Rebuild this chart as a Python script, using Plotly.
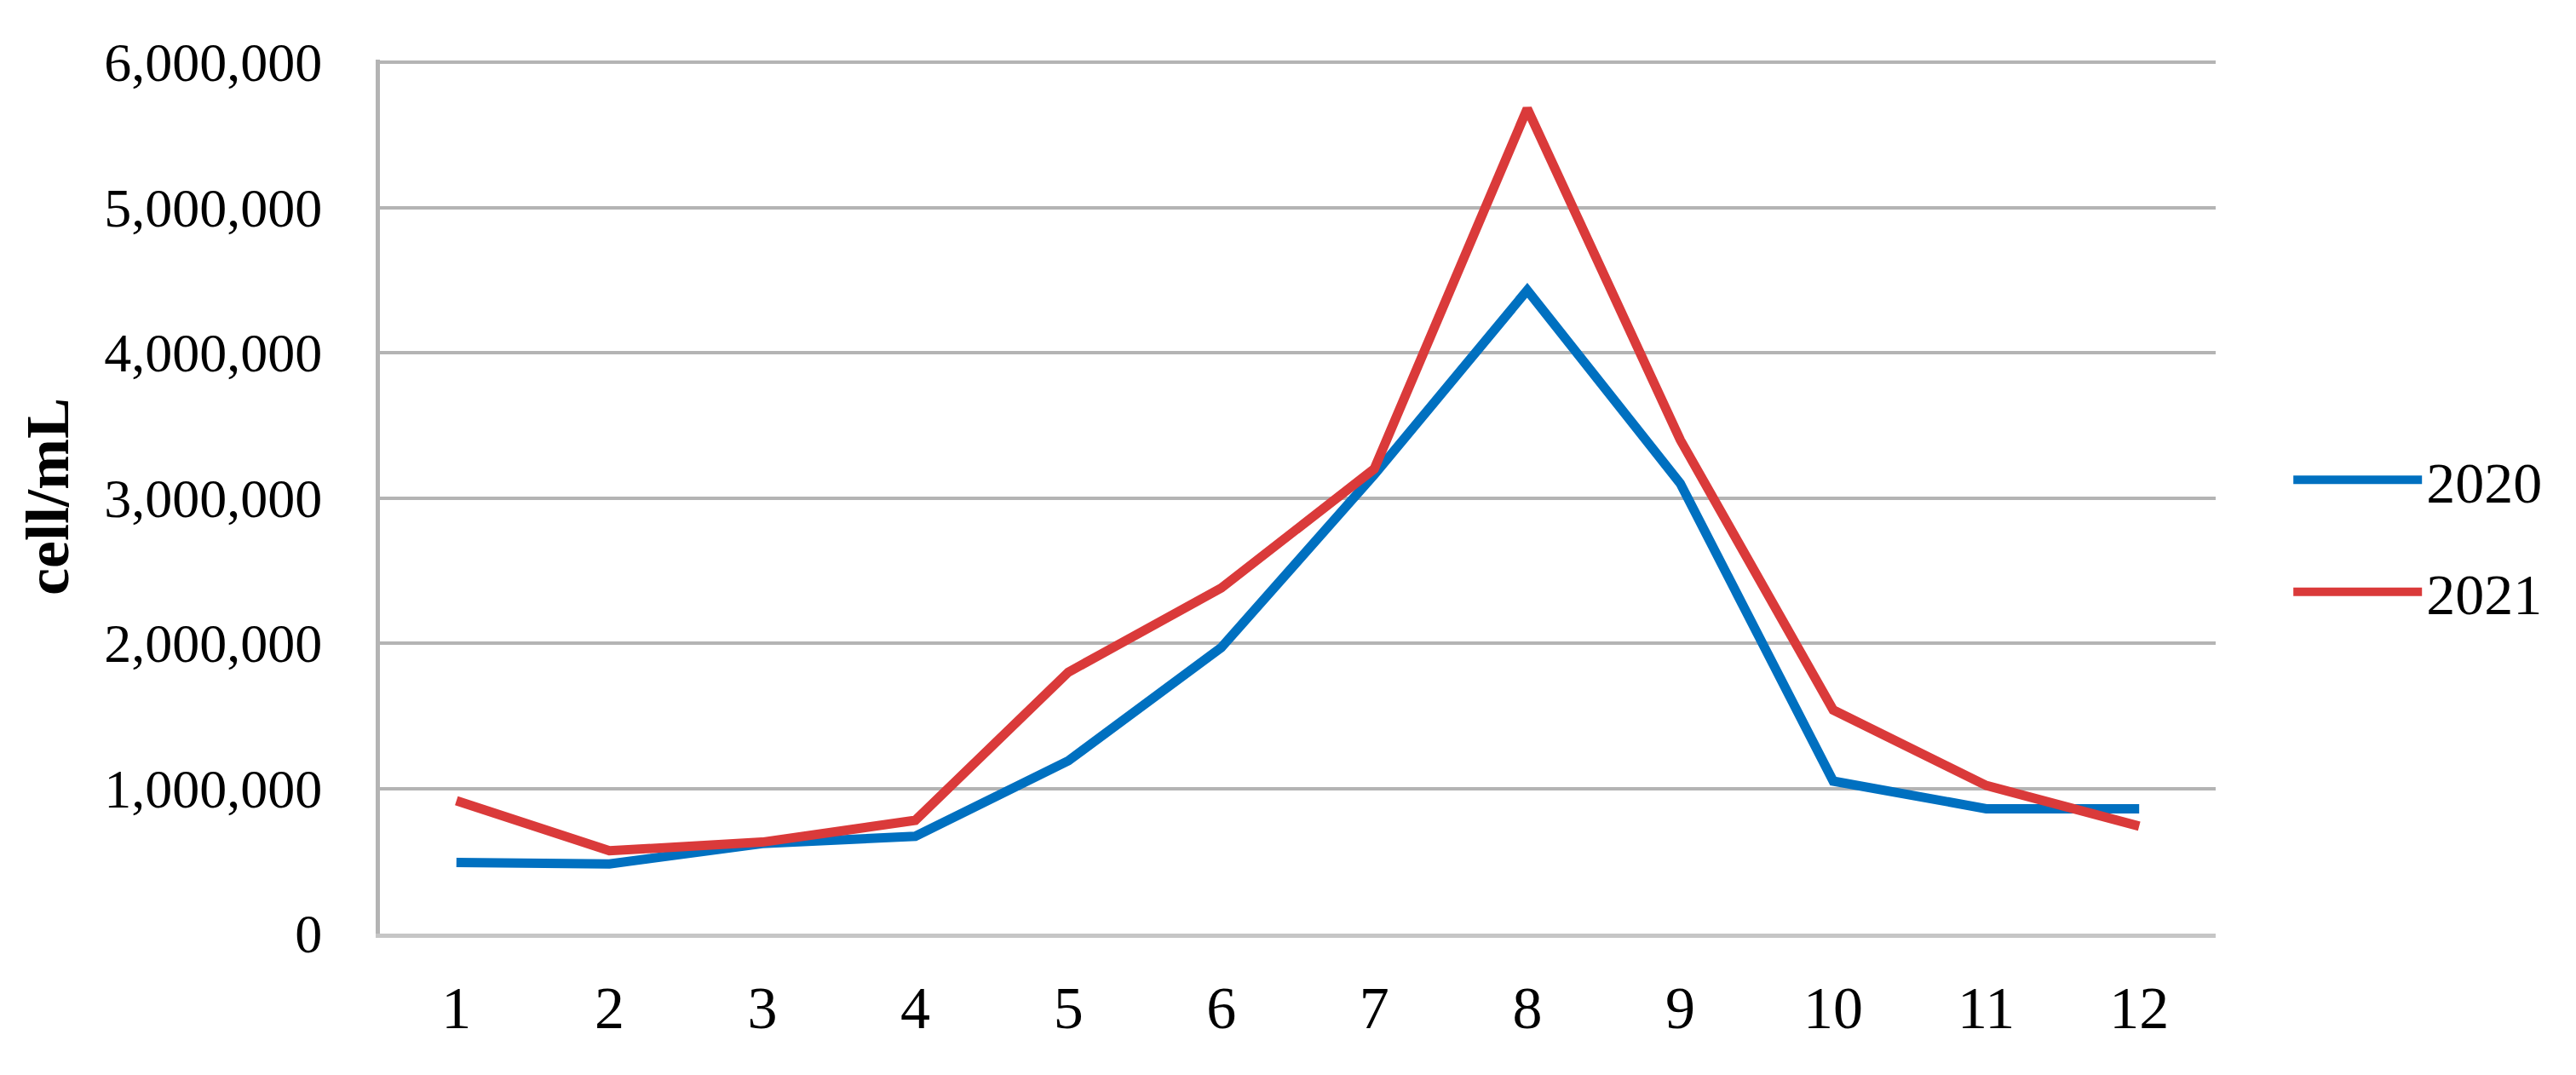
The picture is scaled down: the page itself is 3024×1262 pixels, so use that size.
import plotly.graph_objects as go

# Monatswerte (cell/mL)
months = [1, 2, 3, 4, 5, 6, 7, 8, 9, 10, 11, 12]
cells_2020 = [490000, 480000, 620000, 670000, 1190000, 1970000,
              3160000, 4430000, 3100000, 1050000, 860000, 860000]
cells_2021 = [915000, 570000, 630000, 780000, 1800000, 2380000,
              3200000, 5680000, 3400000, 1540000, 1020000, 740000]
y_ticks = [0, 1000000, 2000000, 3000000, 4000000, 5000000, 6000000]

SERIF = "Liberation Serif, Times New Roman, serif"
GRID = "#b4b4b4"

fig = go.Figure()

fig.add_trace(go.Scatter(
    x=months, y=cells_2020, name="2020", mode="lines",
    line=dict(color="#0070c0", width=11),
    legendgroup="a"
))
fig.add_trace(go.Scatter(
    x=months, y=cells_2021, name="2021", mode="lines",
    line=dict(color="#da3a3a", width=11),
    legendgroup="b"
))

fig.update_layout(
    width=3024,
    height=1262,
    margin=dict(l=438, r=431, t=62, b=174),
    paper_bgcolor="white",
    plot_bgcolor="white",
    font=dict(family=SERIF, color="black"),
    showlegend=True,
    legend=dict(
        x=1.040, xanchor="left",
        y=0.455, yanchor="middle",
        font=dict(size=68, family=SERIF),
        itemwidth=151,
        tracegroupgap=40,
        bgcolor="rgba(0,0,0,0)"
    ),
    xaxis=dict(
        tickmode="array",
        tickvals=months,
        ticktext=[str(m) for m in months],
        range=[0.5, 12.5],
        showgrid=False,
        zeroline=False,
        showline=True,
        linecolor="#c6c6c6",
        linewidth=5,
        ticks="",
        ticklabelstandoff=22,
        tickfont=dict(size=70, family=SERIF)
    ),
    yaxis=dict(
        range=[0, 6018000],
        tickmode="array",
        tickvals=y_ticks,
        ticktext=[f"{v:,}" for v in y_ticks],
        showgrid=True,
        gridcolor=GRID,
        gridwidth=4,
        zeroline=False,
        showline=True,
        linecolor=GRID,
        linewidth=5,
        ticks="",
        ticklabelstandoff=50,
        tickfont=dict(size=64, family=SERIF),
        title=dict(
            text="<b>cell/mL</b>",
            font=dict(size=72, family=SERIF),
            standoff=20
        )
    )
)

fig.write_html("out.html")
